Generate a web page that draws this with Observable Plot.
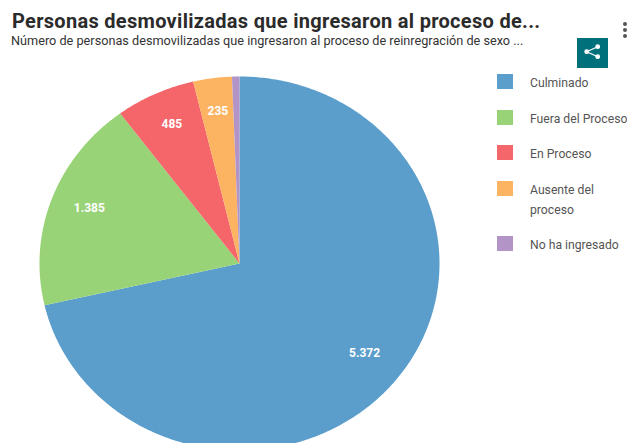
<!DOCTYPE html>
<html><head><meta charset="utf-8">
<script src="https://cdn.jsdelivr.net/npm/d3@7"></script>
<script src="https://cdn.jsdelivr.net/npm/@observablehq/plot@0.6"></script>
<style>
html,body{margin:0;padding:0;background:#fff;width:627px;height:443px;overflow:hidden;font-family:Roboto,sans-serif}
#wrap{position:relative;width:627px;height:443px;overflow:hidden}
#title{position:absolute;left:12px;top:8px;font-size:20px;font-weight:700;color:#2b2b2b;white-space:nowrap;letter-spacing:.3px;line-height:26px}
#sub{position:absolute;left:11px;top:33px;font-size:12.7px;color:#333;white-space:nowrap;line-height:16px}
#chart{position:absolute;left:0;top:0}
#chart svg{display:block}
.sw{position:absolute;left:497px;width:16px;height:15px}
.lb{position:absolute;left:530px;font-size:12.2px;color:#555;line-height:20px;white-space:nowrap}
#share{position:absolute;left:577px;top:38px;width:31px;height:30px;background:#00707a}
.dot{position:absolute;left:623px;width:4px;height:4px;border-radius:50%;background:#555}
</style></head><body><div id="wrap"></div>
<script>
const categories = ["Culminado","Fuera del Proceso","En Proceso","Ausente del proceso","No ha ingresado"];
const legendLines = [["Culminado"],["Fuera del Proceso"],["En Proceso"],["Ausente del","proceso"],["No ha ingresado"]];
const values = [5372,1385,485,235,45];
const colors = ["#5b9ecb","#99d377","#f4666a","#fdb462","#b294c7"];
const legendTop = [74,110,145,181,236];
const showLabel = [true,true,true,true,false];
const titleText = "Personas desmovilizadas que ingresaron al proceso de...";
const subText = "Número de personas desmovilizadas que ingresaron al proceso de reinregración de sexo ...";

const fmt = d3.formatLocale({decimal:",",thousands:".",grouping:[3],currency:["",""]}).format(",d");
const total = d3.sum(values);
let acc = 0;
const slices = values.map((v,i)=>{const a0=acc/total*2*Math.PI; acc+=v; const a1=acc/total*2*Math.PI; return {cat:categories[i],v,a0,a1,i};});
const outline = slices.flatMap(s=>{
  const n=Math.max(4,Math.ceil((s.a1-s.a0)/0.01));
  const pts=[{cat:s.cat,x:0,y:0}];
  for(let k=0;k<=n;k++){const a=s.a0+(s.a1-s.a0)*k/n;pts.push({cat:s.cat,x:Math.sin(a),y:Math.cos(a)});}
  pts.push({cat:s.cat,x:0,y:0});
  return pts;
});
const labels = slices.filter(s=>showLabel[s.i]).map(s=>{const a=(s.a0+s.a1)/2;return {x:.8*Math.sin(a),y:.8*Math.cos(a),t:fmt(s.v)};});

const plot = Plot.plot({
  width:627,height:443,margin:0,
  style:{background:"transparent"},
  x:{domain:[-1,1],range:[39,439],axis:null},
  y:{domain:[-1,1],range:[450,76],axis:null},
  color:{domain:categories,range:colors},
  marks:[
    Plot.line(outline,{x:"x",y:"y",z:"cat",fill:"cat",stroke:null,curve:"linear",clip:false}),
    Plot.text(labels,{x:"x",y:"y",dy:-4,text:"t",fill:"#fff",fontSize:12,fontWeight:700,fontFamily:"Roboto",style:{letterSpacing:".8px"}})
  ]
});
const wrap=document.getElementById("wrap");
const c=document.createElement("div");c.id="chart";c.appendChild(plot);wrap.appendChild(c);
function add(html){wrap.insertAdjacentHTML("beforeend",html);}
add(`<div id="title">${titleText}</div><div id="sub">${subText}</div>`);
categories.forEach((n,i)=>{
  add(`<div class="sw" style="top:${legendTop[i]}px;background:${colors[i]}"></div><div class="lb" style="top:${legendTop[i]-1}px">${legendLines[i].join("<br>")}</div>`);
});
add(`<div id="share"><svg width="31" height="30" viewBox="0 0 31 30"><g fill="#fff" stroke="#fff" stroke-width="1.2"><circle cx="20.7" cy="8.7" r="1.8"/><circle cx="20.7" cy="18.7" r="1.8"/><circle cx="9.7" cy="13.7" r="1.8"/><path d="M20.7 8.7L9.7 13.7L20.7 18.7" fill="none"/></g></svg></div>`);
[22,28,34].forEach(t=>add(`<div class="dot" style="top:${t}px"></div>`));
</script></body></html>
